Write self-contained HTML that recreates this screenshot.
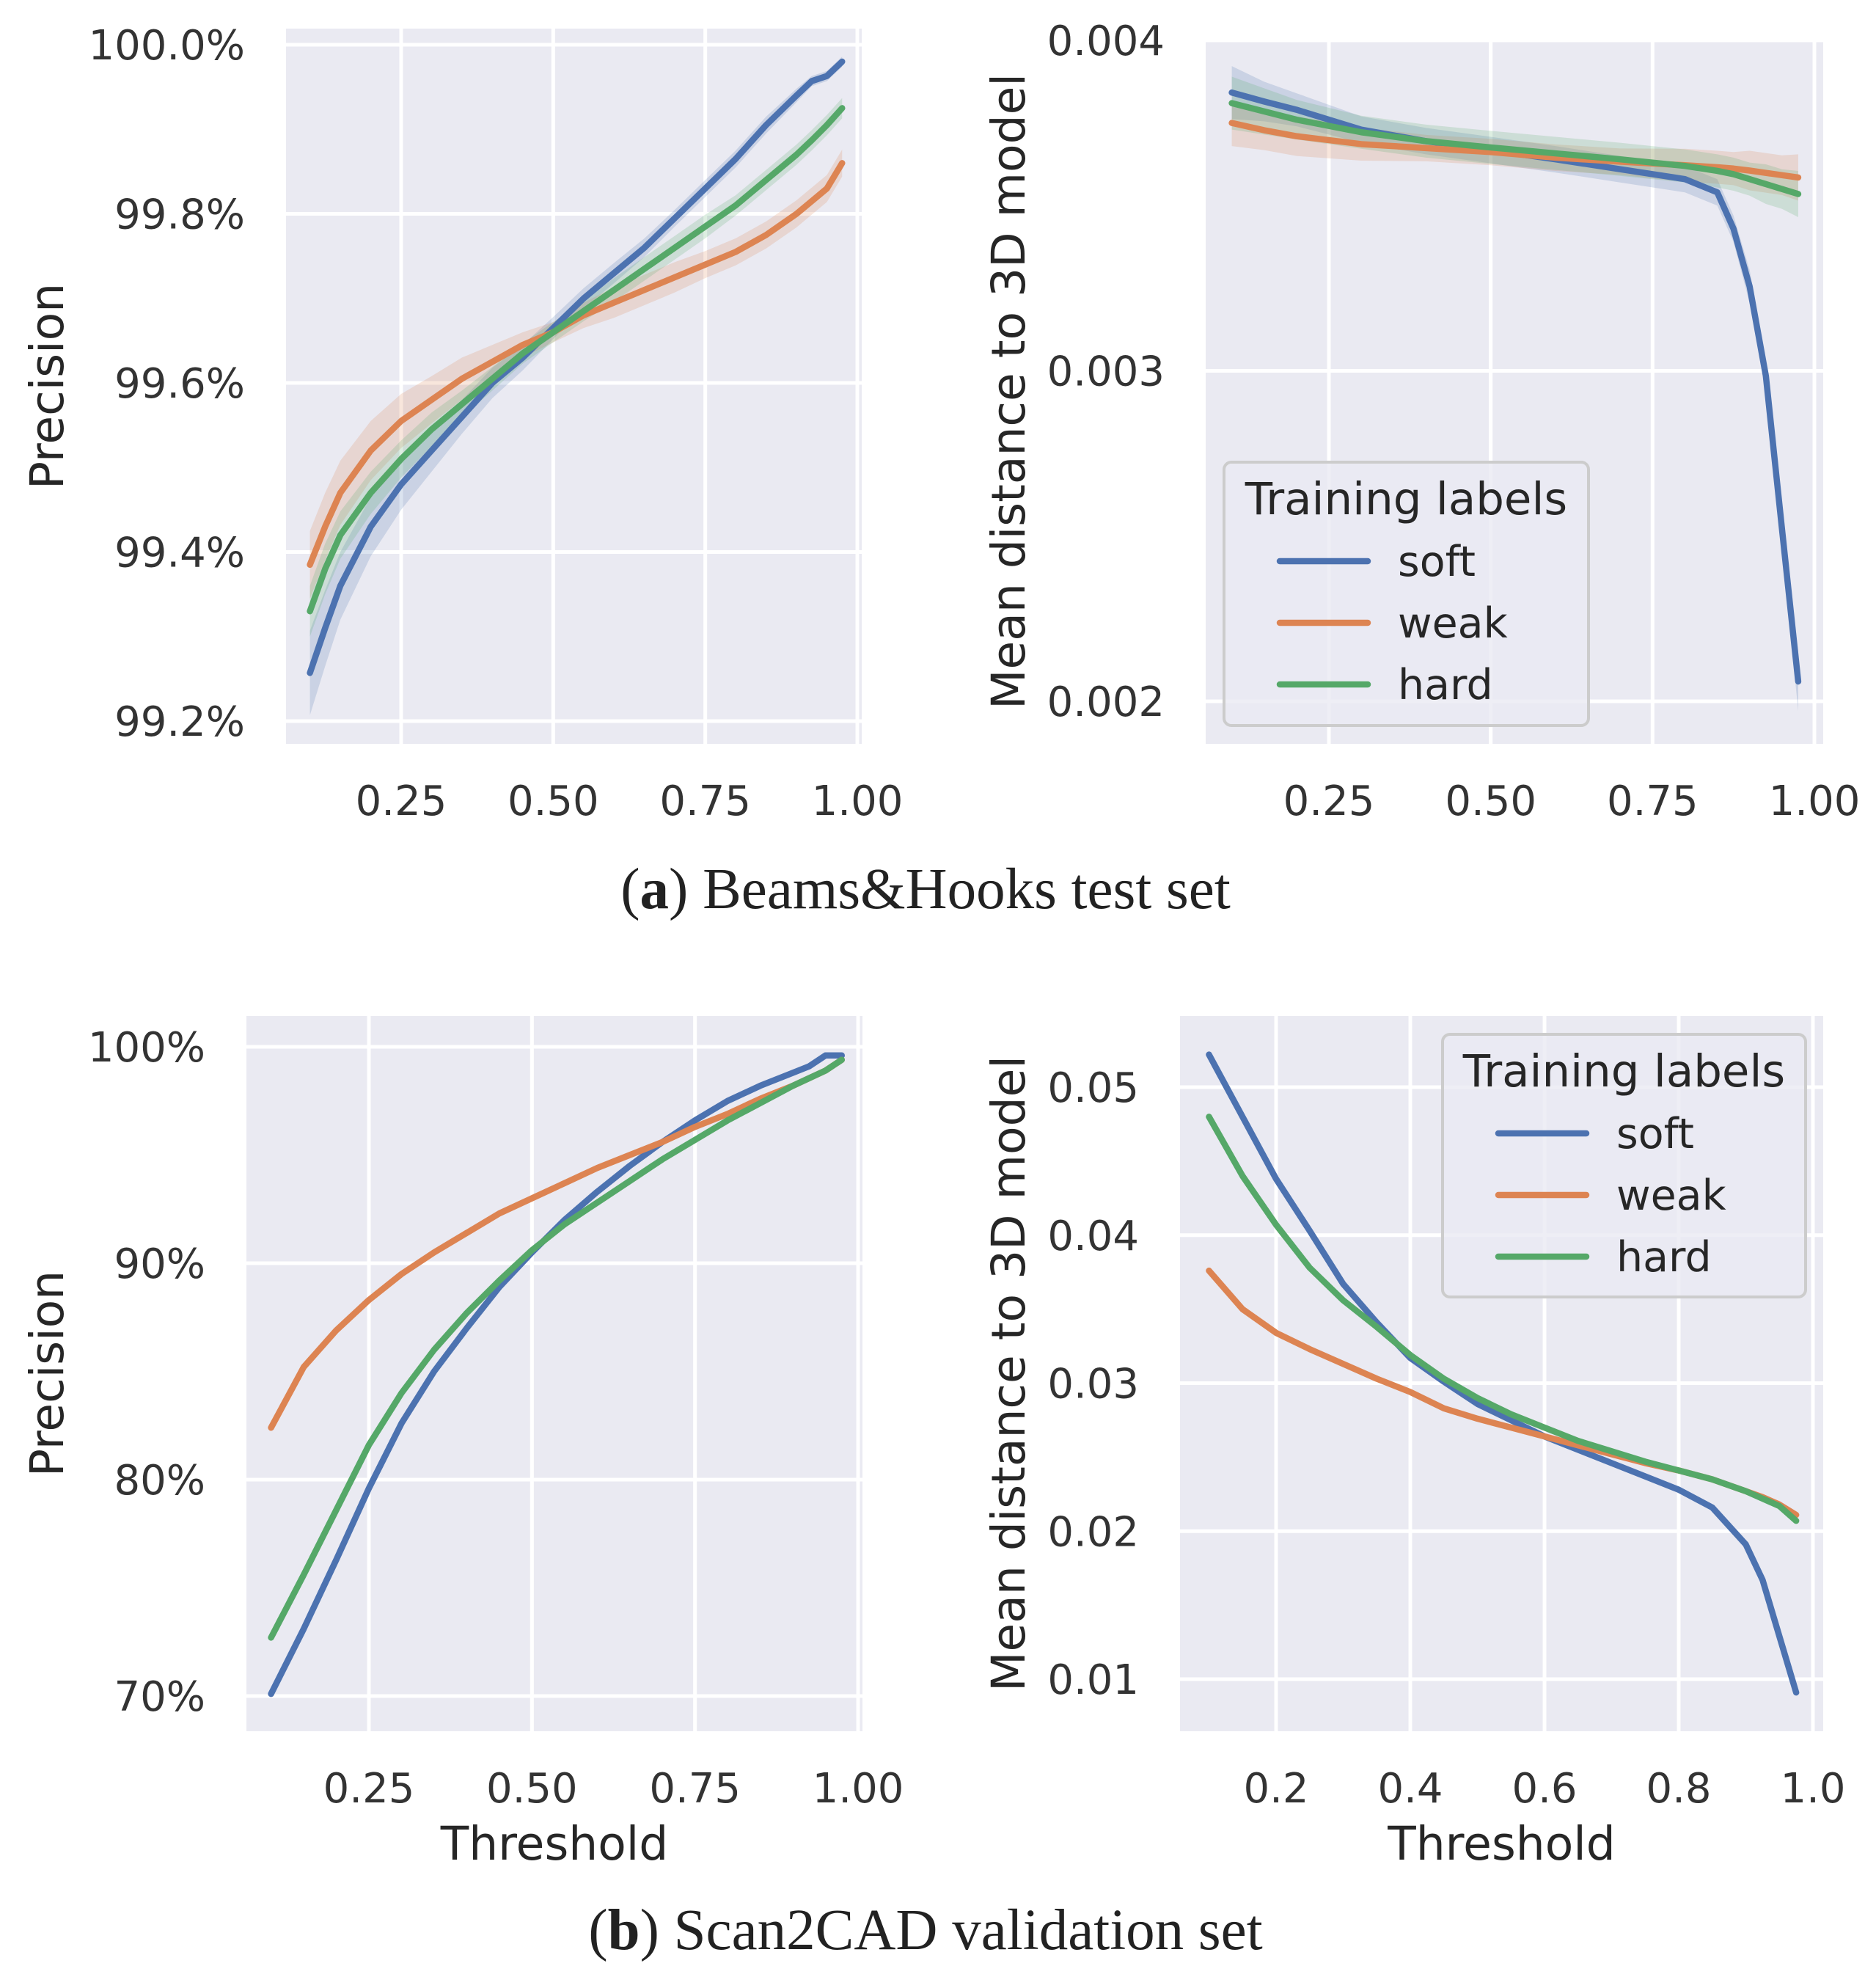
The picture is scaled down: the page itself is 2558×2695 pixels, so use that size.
<!DOCTYPE html>
<html><head><meta charset="utf-8">
<style>
html,body{margin:0;padding:0;background:#fff;}
svg{display:block;}
.tick{font-family:"DejaVu Sans","Liberation Sans",sans-serif;font-size:56px;fill:#333;}
.alab{font-family:"DejaVu Sans","Liberation Sans",sans-serif;font-size:63px;fill:#262626;}
.cap{font-family:"Liberation Serif","DejaVu Serif",serif;font-size:79px;fill:#222;}
.legt{font-family:"DejaVu Sans","Liberation Sans",sans-serif;font-size:61px;fill:#262626;}
.leg{font-family:"DejaVu Sans","Liberation Sans",sans-serif;font-size:57px;fill:#262626;}
</style></head>
<body>
<svg id="fig" width="2558" height="2695" viewBox="0 0 2558 2695" xmlns="http://www.w3.org/2000/svg">
<text class="cap" x="1262" y="1238" text-anchor="middle">(<tspan font-weight="bold">a</tspan>) Beams&amp;Hooks test set</text>
<text class="cap" x="1262" y="2657" text-anchor="middle">(<tspan font-weight="bold">b</tspan>) Scan2CAD validation set</text>
</svg>
<script>
// ---- data ----
const xsA = [0.1,0.125,0.15,0.2,0.25,0.3,0.35,0.4,0.45,0.5,0.55,0.6,0.65,0.7,0.75,0.8,0.85,0.9,0.925,0.95,0.975];
const aPrecSoft = [99.257,99.31,99.36,99.43,99.48,99.52,99.56,99.60,99.63,99.665,99.70,99.73,99.76,99.795,99.83,99.865,99.905,99.94,99.957,99.963,99.98];
const aPrecWeak = [99.385,99.43,99.47,99.52,99.555,99.58,99.605,99.625,99.645,99.66,99.68,99.695,99.71,99.725,99.74,99.755,99.775,99.80,99.815,99.83,99.86];
const aPrecHard = [99.33,99.38,99.42,99.47,99.51,99.545,99.575,99.605,99.635,99.66,99.685,99.71,99.735,99.76,99.785,99.81,99.84,99.87,99.887,99.905,99.925];
const aPrecBandSoft = [0.05,0.045,0.04,0.035,0.03,0.025,0.02,0.018,0.015,0.013,0.012,0.012,0.011,0.01,0.01,0.01,0.01,0.008,0.006,0.006,0.006];
const aPrecBandWeak = [0.04,0.04,0.038,0.035,0.032,0.028,0.025,0.02,0.015,0.012,0.015,0.018,0.018,0.018,0.016,0.016,0.016,0.016,0.016,0.016,0.016];
const aPrecBandHard = [0.03,0.03,0.028,0.025,0.022,0.02,0.016,0.014,0.012,0.012,0.012,0.014,0.014,0.014,0.014,0.012,0.012,0.012,0.012,0.012,0.012];

const xsAR = [0.1,0.15,0.2,0.3,0.4,0.5,0.6,0.7,0.8,0.85,0.875,0.9,0.925,0.95,0.975];
const aDistSoft = [0.003842,0.003815,0.00379,0.00373,0.003695,0.003668,0.00364,0.00361,0.00358,0.00354,0.00343,0.003255,0.002985,0.00252,0.00206];
const aDistWeak = [0.003750,0.003728,0.003710,0.003686,0.003674,0.003662,0.003645,0.003633,0.003622,0.003616,0.003612,0.003606,0.003599,0.003592,0.003585];
const aDistHard = [0.003810,0.003785,0.003760,0.003722,0.003695,0.003676,0.003658,0.00364,0.00362,0.003605,0.003595,0.00358,0.003565,0.00355,0.003535];
const aDistBandSoft = [0.00008,0.00006,0.00005,0.00004,0.00004,0.00004,0.00004,0.00004,0.00004,0.00004,0.00004,0.00005,0.00005,0.00005,0.00009];
const aDistBandWeak = [0.00007,0.00006,0.00006,0.00005,0.00004,0.00004,0.00004,0.00004,0.00005,0.00005,0.00005,0.00006,0.00006,0.00006,0.00007];
const aDistBandHard = [0.00008,0.00007,0.00006,0.00005,0.00005,0.00005,0.00005,0.00005,0.00005,0.00005,0.00005,0.00005,0.00006,0.00006,0.00007];

const xsB = [0.1,0.15,0.2,0.25,0.3,0.35,0.4,0.45,0.5,0.55,0.6,0.65,0.7,0.75,0.8,0.85,0.9,0.925,0.95,0.975];
const bPrecSoft = [70.1,73.1,76.3,79.6,82.6,85.0,87.0,88.9,90.5,92.0,93.3,94.5,95.6,96.6,97.5,98.2,98.8,99.1,99.6,99.6];
const bPrecWeak = [82.4,85.2,86.9,88.3,89.5,90.5,91.4,92.3,93.0,93.7,94.4,95.0,95.6,96.3,96.9,97.6,98.2,98.55,98.9,99.4];
const bPrecHard = [72.7,75.6,78.6,81.6,84.0,86.0,87.7,89.2,90.6,91.8,92.8,93.8,94.8,95.7,96.6,97.4,98.2,98.55,98.9,99.4];

const xsBR = [0.1,0.15,0.2,0.25,0.3,0.35,0.4,0.45,0.5,0.55,0.6,0.65,0.7,0.75,0.8,0.85,0.9,0.925,0.95,0.975];
const bDistSoft = [0.0522,0.048,0.0438,0.0403,0.0367,0.0341,0.0317,0.0301,0.0286,0.0275,0.0264,0.0255,0.0246,0.0237,0.0228,0.0216,0.0191,0.0167,0.0129,0.0091];
const bDistWeak = [0.0376,0.035,0.0334,0.0323,0.0313,0.0303,0.0294,0.0283,0.0276,0.027,0.0264,0.0258,0.0252,0.0246,0.0241,0.0235,0.0227,0.0223,0.0218,0.0211];
const bDistHard = [0.048,0.044,0.0407,0.0378,0.0356,0.0338,0.0319,0.0303,0.029,0.0279,0.027,0.0261,0.0254,0.0247,0.0241,0.0235,0.0227,0.0222,0.0217,0.0207];

const tickA_X = [0.25,0.5,0.75,1.0];
const tickA_XL = ["0.25","0.50","0.75","1.00"];
const tickA1_Y = [99.2,99.4,99.6,99.8,100.0];
const tickA1_YL = ["99.2%","99.4%","99.6%","99.8%","100.0%"];
const tickA2_Y = [0.002,0.003,0.004];
const tickA2_YL = ["0.002","0.003","0.004"];
const tickB1_Y = [70,80,90,100];
const tickB1_YL = ["70%","80%","90%","100%"];
const tickB2_X = [0.2,0.4,0.6,0.8,1.0];
const tickB2_XL = ["0.2","0.4","0.6","0.8","1.0"];
const tickB2_Y = [0.01,0.02,0.03,0.04,0.05];
const tickB2_YL = ["0.01","0.02","0.03","0.04","0.05"];
const legendLabels = ["soft","weak","hard"];

// ---- drawing ----
const NS="http://www.w3.org/2000/svg";
const svg=document.getElementById('fig');
const COLORS=["#4c72b0","#dd8452","#55a868"];
function mk(tag,attrs,parent){const e=document.createElementNS(NS,tag);for(const k in attrs)e.setAttribute(k,attrs[k]);(parent||svg).appendChild(e);return e;}
function lin(d0,d1,r0,r1){return v=>r0+(v-d0)*(r1-r0)/(d1-d0);}

function panel(cfg){
  const g=mk('g',{});
  
  
  const bg=mk('rect',{x:cfg.x0,y:cfg.y0,width:cfg.x1-cfg.x0,height:cfg.y1-cfg.y0,fill:'#eaeaf2'},g);
  
  
  const X=cfg.sx, Y=cfg.sy;
  cfg.xt.forEach((v,i)=>{
    const l=mk('line',{x1:X(v),x2:X(v),y1:cfg.y0,y2:cfg.y1,stroke:'#fff','stroke-width':5},g);
    
    
    const t=mk('text',{x:X(v),y:cfg.y1+97,'text-anchor':'middle',class:'tick'},g);
    t.textContent=cfg.xl[i];
    
    
  });
  cfg.yt.forEach((v,i)=>{
    const l=mk('line',{x1:cfg.x0,x2:cfg.x1,y1:Y(v),y2:Y(v),stroke:'#fff','stroke-width':5},g);
    
    
    const t=mk('text',{x:cfg.x0-56,y:Y(v)+20,'text-anchor':'end',class:'tick'},g);
    t.textContent=cfg.yl[i];
    
    
  });
  cfg.series.forEach((s,k)=>{
    if(s.band){
      const up=cfg.xs.map((x,i)=>X(x)+','+Y(s.v[i]+s.band[i]));
      const dn=cfg.xs.map((x,i)=>X(x)+','+Y(s.v[i]-s.band[i])).reverse();
      const p=mk('polygon',{points:up.concat(dn).join(' '),fill:COLORS[k],'fill-opacity':0.2},g);
      
      
    }
  });
  cfg.series.forEach((s,k)=>{
    const pts=cfg.xs.map((x,i)=>X(x)+','+Y(s.v[i])).join(' ');
    const p=mk('polyline',{points:pts,fill:'none',stroke:COLORS[k],'stroke-width':8.5,'stroke-linejoin':'round','stroke-linecap':'round'},g);
    
    
  });
  const yl=mk('text',{x:0,y:0,'text-anchor':'middle',class:'alab',transform:`translate(${cfg.ylx},${(cfg.y0+cfg.y1)/2}) rotate(-90)`},g);
  yl.textContent=cfg.ylabel;
  
  
  if(cfg.xlabel){
    const xl=mk('text',{x:(cfg.x0+cfg.x1)/2,y:cfg.y1+175,'text-anchor':'middle',class:'alab'},g);
    xl.textContent=cfg.xlabel;
    
    
  }
  if(cfg.legend){
    const L=cfg.legend;
    const lg=mk('g',{},g);
    
    
    mk('rect',{x:L.x,y:L.y,width:L.w,height:L.h,rx:10,fill:'#eaeaf2','fill-opacity':0.8,stroke:'#cccccc','stroke-width':4},lg);
    const tt=mk('text',{x:L.x+L.w/2,y:L.y+71,'text-anchor':'middle',class:'legt'},lg);
    tt.textContent='Training labels';
    
    
    legendLabels.forEach((lab,k)=>{
      const yy=L.y+135+k*84;
      const e=mk('g',{},lg);
      
      
      mk('line',{x1:L.x+76,x2:L.x+196,y1:yy,y2:yy,stroke:COLORS[k],'stroke-width':8.5,'stroke-linecap':'round'},e);
      const t=mk('text',{x:L.x+237,y:yy+20,class:'leg'},e);
      t.textContent=lab;
    });
  }
}

// Panel a-left
panel({name:'panel-a-precision',x0:390,x1:1175,y0:39,y1:1014,
  sx:lin(0.25,1.0,547,1169),sy:lin(99.2,100.0,983,61),
  xt:tickA_X,xl:tickA_XL,yt:tickA1_Y,yl:tickA1_YL,xs:xsA,
  series:[{v:aPrecSoft,band:aPrecBandSoft},{v:aPrecWeak,band:aPrecBandWeak},{v:aPrecHard,band:aPrecBandHard}],
  ylabel:'Precision',ylx:86});
// Panel a-right
panel({name:'panel-a-distance',x0:1644,x1:2486,y0:53,y1:1014,
  sx:lin(0.25,1.0,1812,2474),sy:lin(0.002,0.004,956,55),
  xt:tickA_X,xl:tickA_XL,yt:tickA2_Y,yl:tickA2_YL,xs:xsAR,
  series:[{v:aDistSoft,band:aDistBandSoft},{v:aDistWeak,band:aDistBandWeak},{v:aDistHard,band:aDistBandHard}],
  ylabel:'Mean distance to 3D model',ylx:1397,
  legend:{x:1669,y:630,w:497,h:359}});
// Panel b-left
panel({name:'panel-b-precision',x0:336,x1:1176,y0:1385,y1:2360,
  sx:lin(0.25,1.0,503,1170),sy:lin(70,100,2312,1427),
  xt:tickA_X,xl:tickA_XL,yt:tickB1_Y,yl:tickB1_YL,xs:xsB,
  series:[{v:bPrecSoft},{v:bPrecWeak},{v:bPrecHard}],
  ylabel:'Precision',xlabel:'Threshold',ylx:86});
// Panel b-right
panel({name:'panel-b-distance',x0:1609,x1:2486,y0:1385,y1:2360,
  sx:lin(0.2,1.0,1740,2472),sy:lin(0.01,0.05,2289,1482),
  xt:tickB2_X,xl:tickB2_XL,yt:tickB2_Y,yl:tickB2_YL,xs:xsBR,
  series:[{v:bDistSoft},{v:bDistWeak},{v:bDistHard}],
  ylabel:'Mean distance to 3D model',xlabel:'Threshold',ylx:1397,
  legend:{x:1967,y:1410,w:495,h:358}});
</script>
</body></html>
